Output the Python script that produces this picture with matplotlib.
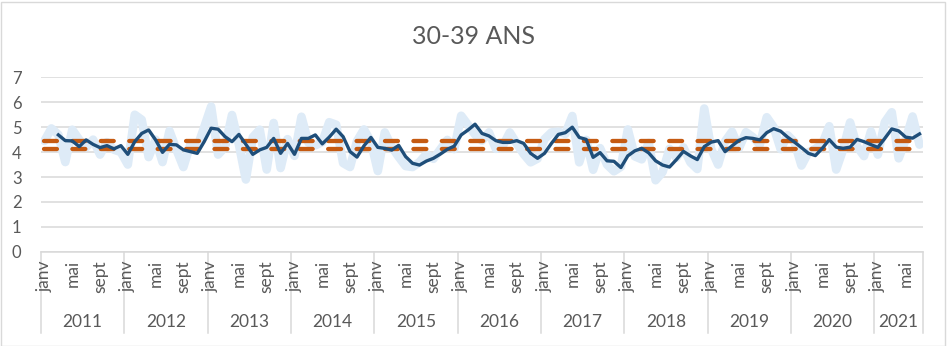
import matplotlib
matplotlib.use("Agg")
import matplotlib.pyplot as plt
from matplotlib.patches import Rectangle
import matplotlib.transforms as mtransforms

plt.rcParams['font.family'] = ['Lato', 'DejaVu Sans']

title = "30-39 ANS"
years = ["2011", "2012", "2013", "2014", "2015", "2016", "2017", "2018", "2019", "2020", "2021"]
months_per_year = [12, 12, 12, 12, 12, 12, 12, 12, 12, 12, 7]
month_names = ["janv", "févr", "mars", "avr", "mai", "juin", "juil", "août", "sept", "oct", "nov", "déc"]
shown_months = ["janv", "mai", "sept"]

raw = [4.45, 4.95, 4.7, 3.6, 4.9, 4.5, 4.2, 4.5, 3.9, 4.4, 4.1, 4.0,
       3.5, 5.5, 5.3, 3.8, 4.5, 3.6, 4.85, 4.1, 3.4, 4.3, 4.2, 5.0,
       5.83, 3.9, 4.2, 5.49, 4.3, 2.9, 4.6, 4.9, 3.3, 5.17, 3.36, 4.52,
       3.85, 5.42, 4.38, 4.27, 4.4, 5.2, 5.1, 3.56, 3.4, 4.44, 4.91, 4.42,
       3.24, 4.79, 4.21, 3.81, 3.44, 3.4, 3.6, 3.92, 3.73, 4.11, 4.49, 4.12,
       5.46, 5.09, 4.7, 4.46, 4.79, 4.13, 4.25, 4.79, 4.34, 3.92, 3.59, 3.74,
       4.52, 4.79, 4.82, 4.73, 5.45, 3.59, 4.49, 3.29, 4.16, 3.5, 3.23, 3.41,
       4.91, 3.83, 3.71, 4.37, 2.87, 3.2, 4.13, 3.77, 4.19, 3.59, 3.32, 5.75,
       4.13, 3.5, 4.43, 4.82, 4.16, 4.8, 4.6, 4.3, 5.4, 5.0, 4.12, 4.68,
       4.4, 3.46, 3.99, 4.13, 4.33, 5.04, 3.3, 4.11, 5.19, 4.23, 3.84, 4.83,
       3.9, 5.2, 5.6, 3.75, 4.5, 5.43, 4.3]

moving_avg = [None, None, 4.69, 4.46, 4.45, 4.22, 4.49, 4.31, 4.18, 4.26, 4.13, 4.26,
              3.91, 4.42, 4.75, 4.89, 4.49, 3.99, 4.31, 4.29, 4.09, 4.02, 3.95, 4.42,
              4.96, 4.92, 4.62, 4.42, 4.71, 4.31, 3.91, 4.09, 4.19, 4.55, 3.95, 4.35,
              3.91, 4.55, 4.55, 4.69, 4.33, 4.6, 4.92, 4.62, 4.02, 3.8, 4.25, 4.59,
              4.19, 4.15, 4.08, 4.27, 3.82, 3.55, 3.48, 3.64, 3.75, 3.92, 4.11, 4.24,
              4.69, 4.89, 5.12, 4.75, 4.65, 4.46, 4.39, 4.39, 4.46, 4.35, 3.95, 3.75,
              3.95, 4.35, 4.71, 4.78, 5.0, 4.59, 4.51, 3.79, 3.98, 3.65, 3.63, 3.38,
              3.85, 4.05, 4.15, 3.97, 3.65, 3.48, 3.4, 3.7, 4.03, 3.85, 3.7, 4.22,
              4.4, 4.46, 4.02, 4.25, 4.47, 4.58, 4.55, 4.49, 4.78, 4.94, 4.84, 4.6,
              4.4, 4.18, 3.95, 3.86, 4.15, 4.5, 4.2, 4.15, 4.2, 4.51, 4.42, 4.3,
              4.19, 4.55, 4.93, 4.85, 4.6, 4.56, 4.73]

upper_limit = 4.45
lower_limit = 4.12

n = len(raw)
x = list(range(n))
ma_x = [i for i in x if moving_avg[i] is not None]
ma_y = [moving_avg[i] for i in ma_x]

W, H = 947, 346
fig = plt.figure(figsize=(W / 100, H / 100), dpi=100)
fig.patch.set_facecolor("white")
fig.patches.append(Rectangle((0.5 / W, 0.5 / H), (W - 2.5) / W, (H - 2.5) / H,
                             transform=fig.transFigure, fill=False,
                             edgecolor="#D9D9D9", linewidth=1))

left_px, right_px, top_px, bottom_px = 41, 923, 77.4, 251.7
ax = fig.add_axes([left_px / W, 1 - bottom_px / H, (right_px - left_px) / W, (bottom_px - top_px) / H])

grid_c = "#D9D9D9"
text_c = "#595959"

ax.set_xlim(-0.5, n - 0.5)
ax.set_ylim(0, 7)
ax.set_yticks(range(0, 8))
ax.yaxis.grid(True, color=grid_c, linewidth=1.1)
ax.set_axisbelow(True)
ax.tick_params(axis="y", length=0, pad=14, labelsize=12, labelcolor=text_c)
ax.tick_params(axis="x", length=0, labelbottom=False)
ax.set_xticks([])
for s in ["top", "right", "left"]:
    ax.spines[s].set_visible(False)
ax.spines["bottom"].set_color(grid_c)
ax.spines["bottom"].set_linewidth(1.1)

ax.plot(x, raw, color="#DEEBF7", linewidth=6.2, solid_joinstyle="round", solid_capstyle="round", zorder=2)
for v in (upper_limit, lower_limit):
    ax.hlines(v, x[0], x[-1], colors="#C55A11", linewidth=3.1, linestyles=(0, (3.0, 3.6)),
              capstyle="round", zorder=3)
ax.plot(ma_x, ma_y, color="#1F4E79", linewidth=2.4, solid_joinstyle="round", zorder=4)

# multi-level category axis
trans = mtransforms.blended_transform_factory(ax.transData, ax.transAxes)
axes_h = bottom_px - top_px
line_bottom = (bottom_px - 333) / axes_h
month_top = (bottom_px - 260) / axes_h
year_y = (bottom_px - 322) / axes_h

start = 0
boundaries = [-0.5]
for yr, cnt in zip(years, months_per_year):
    for m in range(cnt):
        if month_names[m] in shown_months:
            ax.text(start + m, month_top, month_names[m], transform=trans, rotation=90,
                    ha="center", va="top", fontsize=12.5, color=text_c, clip_on=False)
    ax.text(start + (cnt - 1) / 2, year_y, yr, transform=trans, ha="center", va="center",
            fontsize=12.5, color=text_c, clip_on=False)
    start += cnt
    boundaries.append(start - 0.5)
for b in boundaries:
    ax.plot([b, b], [0, line_bottom], transform=trans, color=grid_c, linewidth=1.1, clip_on=False)

fig.text(473.5 / W, 1 - 36 / H, title, ha="center", va="center", fontsize=18, color=text_c)

fig.savefig("out.png", dpi=100)
